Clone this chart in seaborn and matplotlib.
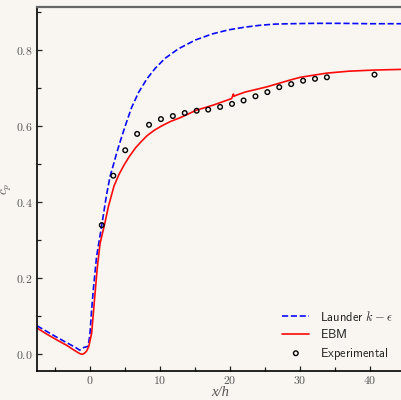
import matplotlib
matplotlib.use("Agg")
import matplotlib.pyplot as plt
import seaborn as sns
import numpy as np
from matplotlib.ticker import MultipleLocator, FuncFormatter

# ---- data ----
launder_x = [-7.5, -6.0, -4.5, -3.0, -2.0, -1.4, -1.1, -0.8, -0.2, 0.05, 0.3, 0.55,
             1.0, 1.75, 2.4, 2.93, 3.4, 3.9, 4.5, 5.1, 6.0, 7.0, 8.2, 9.4, 10.8,
             12.7, 15.1, 17.5, 19.9, 22.2, 24.4, 26.5, 28.7, 32.0, 36.0, 40.0, 45.0]
launder_y = [0.074, 0.058, 0.042, 0.027, 0.017, 0.010, 0.013, 0.017, 0.020, 0.050, 0.115, 0.170,
             0.255, 0.339, 0.415, 0.467, 0.497, 0.530, 0.566, 0.600, 0.648, 0.688, 0.724, 0.752, 0.778,
             0.803, 0.826, 0.842, 0.853, 0.860, 0.865, 0.868, 0.869, 0.870, 0.870, 0.869, 0.869]

ebm_x = [-7.5, -6.0, -4.5, -3.3, -2.3, -1.7, -1.3, -1.0, -0.7, -0.4, -0.1, 0.3, 0.7,
         1.1, 1.5, 2.2, 2.7, 3.5, 4.2, 4.9, 5.7, 6.6, 7.4, 8.2, 9.2, 10.3, 11.6, 13.0, 15.2, 17.7, 20.3,
         20.55, 20.65, 20.85, 22.2, 25.35, 28.7, 30.1, 33.9, 37.0, 40.6, 45.0]
ebm_y = [0.068, 0.051, 0.035, 0.023, 0.011, 0.004, 0.000, -0.001, 0.002, 0.008, 0.020, 0.054, 0.140,
         0.225, 0.290, 0.345, 0.388, 0.442, 0.472, 0.496, 0.520, 0.543, 0.559, 0.574, 0.588, 0.600, 0.612, 0.622,
         0.641, 0.655, 0.672,
         0.684, 0.678, 0.680, 0.689, 0.703, 0.721, 0.728, 0.739, 0.744, 0.747, 0.749]

exp_x = [1.75, 3.4, 5.1, 6.8, 8.5, 10.2, 11.9, 13.6, 15.3, 16.95, 18.65, 20.35, 22.0,
         23.7, 25.4, 27.1, 28.8, 30.5, 32.2, 33.9, 40.7]
exp_y = [0.339, 0.469, 0.536, 0.579, 0.603, 0.618, 0.626, 0.634, 0.640, 0.643, 0.650, 0.658, 0.667,
         0.678, 0.689, 0.702, 0.710, 0.719, 0.724, 0.728, 0.735]

labels = [r"$\mathsf{Launder}\ k-\epsilon$", r"$\mathsf{EBM}$", r"$\mathsf{Experimental}$"]
x_ticks = [0, 10, 20, 30, 40]
y_ticks = [0.0, 0.2, 0.4, 0.6, 0.8]

# ---- style ----
sns.set_theme(style="ticks")
bg = "#f9f6f1"
plt.rcParams["mathtext.fontset"] = "cm"
plt.rcParams["font.family"] = ["DejaVu Sans"]

fig = plt.figure(figsize=(4.02, 4.00), dpi=100, facecolor=bg)
ax = fig.add_axes([37/402, 1 - 371/400, 1 - 37/402 + 0.003, (371 - 7)/400])
ax.set_facecolor(bg)

sns.lineplot(x=launder_x, y=launder_y, ax=ax, color="#0a0aff", linestyle="--",
             linewidth=1.2, label=labels[0], sort=False)
sns.lineplot(x=ebm_x, y=ebm_y, ax=ax, color="#ff0a0a", linewidth=1.2,
             label=labels[1], sort=False)
sns.scatterplot(x=exp_x, y=exp_y, ax=ax, marker="o", s=11, facecolor="none",
                edgecolor="black", linewidth=1.0, label=labels[2], zorder=5)

ax.set_xlim(-7.5, 44.8)
ax.set_ylim(-0.045, 0.913)
ax.set_xticks(x_ticks)
ax.set_yticks(y_ticks)
ax.xaxis.set_minor_locator(MultipleLocator(5))
ax.yaxis.set_minor_locator(MultipleLocator(0.1))
ax.xaxis.set_major_formatter(FuncFormatter(lambda v, p: f"${v:.0f}$"))
ax.yaxis.set_major_formatter(FuncFormatter(lambda v, p: f"${v:.1f}$"))
ax.tick_params(which="both", direction="in", colors="#222222", labelcolor="#555555",
               labelsize=8.5, top=False, right=False)
ax.tick_params(which="major", length=3.5, width=0.9, pad=3)
ax.tick_params(axis="x", which="major", pad=1.8)
ax.tick_params(which="minor", length=3.0, width=0.9)

for s in ["left", "bottom"]:
    ax.spines[s].set_color("black")
    ax.spines[s].set_linewidth(1.2)
ax.spines["top"].set_color("#666666")
ax.spines["top"].set_linewidth(1.6)
ax.spines["right"].set_visible(False)

ax.set_xlabel("x/h", fontsize=10.5, color="#555555", family="Liberation Serif",
              style="italic", va="center")
ax.set_ylabel(r"$c_p$", fontsize=9.5, color="#555555")
ax.xaxis.set_label_coords(0.5, -0.060)
ax.yaxis.set_label_coords(-0.062, 0.5)

leg = ax.legend(loc="lower right", frameon=False, fontsize=9, handlelength=2.13,
                handletextpad=0.88, labelspacing=0.35, borderaxespad=0.0,
                borderpad=0.0, bbox_to_anchor=(0.972, 0.026))

fig.savefig("out.png", dpi=100, facecolor=bg)
